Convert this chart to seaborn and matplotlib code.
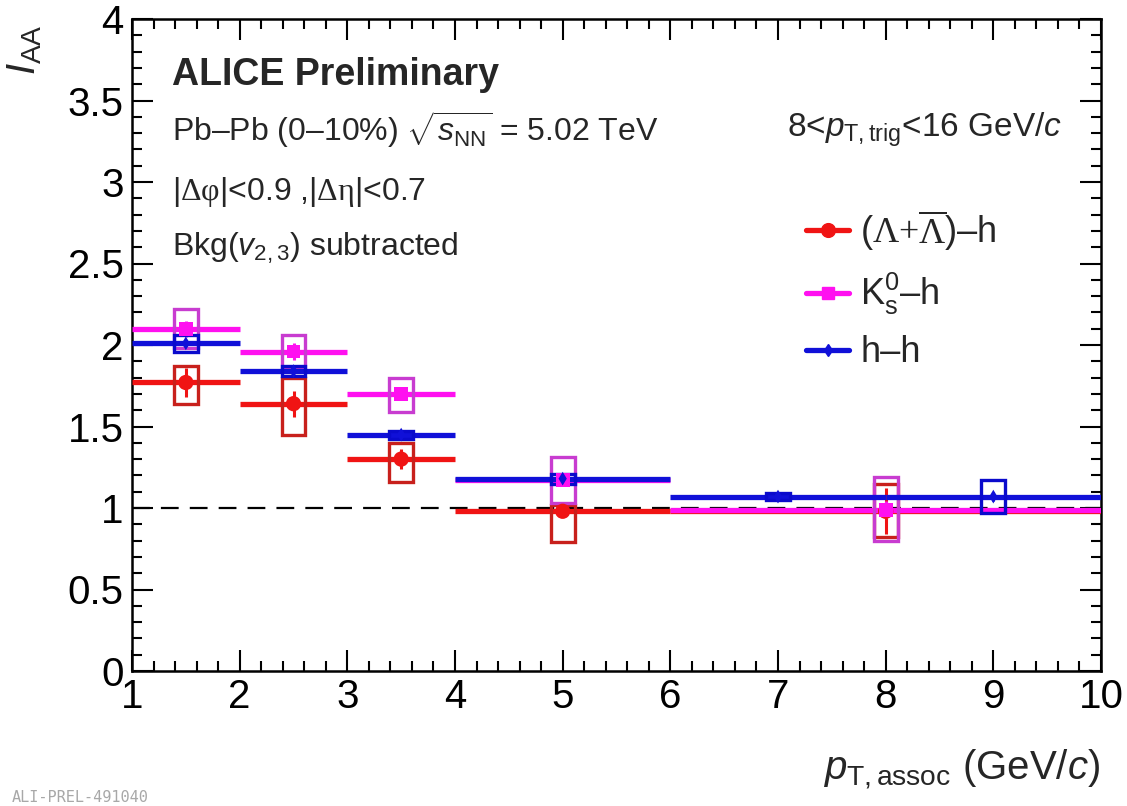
import matplotlib
matplotlib.use("Agg")
import matplotlib.pyplot as plt
from matplotlib.patches import Rectangle
from matplotlib.lines import Line2D
from matplotlib.ticker import MultipleLocator, FuncFormatter
import numpy as np
import pandas as pd
import seaborn as sns

# (Lambda + anti-Lambda)-h
lam_lo = [1, 2, 3, 4, 6]
lam_hi = [2, 3, 4, 6, 10]
lam_x = [1.5, 2.5, 3.5, 5.0, 8.0]
lam_y = [1.77, 1.64, 1.30, 0.98, 0.98]
lam_stat = [0.09, 0.08, 0.06, 0.03, 0.14]
lam_sys_dn = [0.13, 0.19, 0.14, 0.19, 0.16]
lam_sys_up = [0.10, 0.16, 0.10, 0.04, 0.17]

# K0s-h
k0_lo = [1, 2, 3, 4, 6]
k0_hi = [2, 3, 4, 6, 10]
k0_x = [1.5, 2.5, 3.5, 5.0, 8.0]
k0_y = [2.10, 1.96, 1.70, 1.17, 0.99]
k0_stat = [0.05, 0.05, 0.04, 0.03, 0.05]
k0_sys_dn = [0.12, 0.10, 0.11, 0.14, 0.19]
k0_sys_up = [0.12, 0.10, 0.10, 0.14, 0.20]

# h-h
hh_lo = [1, 2, 3, 4, 6, 8]
hh_hi = [2, 3, 4, 6, 8, 10]
hh_x = [1.5, 2.5, 3.5, 5.0, 7.0, 9.0]
hh_y = [2.01, 1.84, 1.45, 1.18, 1.07, 1.07]
hh_stat = [0.015, 0.01, 0.01, 0.01, 0.01, 0.03]
hh_sys_dn = [0.05, 0.03, 0.025, 0.03, 0.02, 0.10]
hh_sys_up = [0.05, 0.03, 0.025, 0.03, 0.02, 0.10]

series_names = [r"$(\mathsf{\Lambda}\mathsf{+}\overline{\mathsf{\Lambda}})$–h",
                r"K$^{0}_{\rm s}$–h", "h–h"]

sns.set_theme(style="ticks")
plt.rcParams["font.family"] = ["Liberation Sans", "DejaVu Sans"]
plt.rcParams["mathtext.fontset"] = "custom"
plt.rcParams["mathtext.rm"] = "Liberation Sans"
plt.rcParams["mathtext.it"] = "Liberation Sans:italic"
plt.rcParams["mathtext.bf"] = "Liberation Sans:bold"
plt.rcParams["mathtext.sf"] = "Liberation Serif"

W, H = 1127, 806
fig = plt.figure(figsize=(W / 100, H / 100), dpi=100)
ax = fig.add_axes([132 / W, 1 - 671 / H, (1101 - 132) / W, (671 - 19) / H])

series = [
    dict(name=series_names[0], lo=lam_lo, hi=lam_hi, x=lam_x, y=lam_y, stat=lam_stat,
         sdn=lam_sys_dn, sup=lam_sys_up, col="#f01414", box="#c8201c", marker="o", ms=11),
    dict(name=series_names[1], lo=k0_lo, hi=k0_hi, x=k0_x, y=k0_y, stat=k0_stat,
         sdn=k0_sys_dn, sup=k0_sys_up, col="#ff10f0", box="#c83cd0", marker="s", ms=10),
    dict(name=series_names[2], lo=hh_lo, hi=hh_hi, x=hh_x, y=hh_y, stat=hh_stat,
         sdn=hh_sys_dn, sup=hh_sys_up, col="#1010d8", box="#0a0acc", marker="d", ms=7),
]

# reference line at unity
ax.axhline(1.0, color="black", lw=1.6, ls=(0, (8, 5)), zorder=1)

box_w = 0.22
rows = []
for z, s in enumerate(series):
    x = np.array(s["x"])
    y = np.array(s["y"])
    lo = np.array(s["lo"])
    hi = np.array(s["hi"])
    # bin-width lines and statistical errors
    ax.errorbar(x, y, xerr=[x - lo, hi - x], fmt="none", ecolor=s["col"],
                elinewidth=3.8, capsize=0, zorder=3 + z)
    ax.errorbar(x, y, yerr=s["stat"], fmt="none", ecolor=s["col"],
                elinewidth=2.2, capsize=0, zorder=3 + z)
    # systematic boxes
    for xi, yi, dn, up in zip(x, y, s["sdn"], s["sup"]):
        ax.add_patch(Rectangle((xi - box_w / 2, yi - dn), box_w, dn + up,
                               fill=False, edgecolor=s["box"], lw=2.4, zorder=3 + z))
    for xi, yi in zip(x, y):
        rows.append(dict(pt=xi, iaa=yi, particle=s["name"]))

df = pd.DataFrame(rows)
palette = {s["name"]: s["col"] for s in series}
markers = {s["name"]: s["marker"] for s in series}
sizes = {s["name"]: s["ms"] ** 2 for s in series}
sns.scatterplot(data=df, x="pt", y="iaa", hue="particle", style="particle", size="particle",
                palette=palette, markers=markers, sizes=sizes, edgecolor="none",
                legend=False, ax=ax, zorder=8)

ax.set_xlim(1, 10)
ax.set_ylim(0, 4)
ax.xaxis.set_major_locator(MultipleLocator(1))
ax.xaxis.set_minor_locator(MultipleLocator(0.2))
ax.yaxis.set_major_locator(MultipleLocator(0.5))
ax.yaxis.set_minor_locator(MultipleLocator(0.1))
ax.yaxis.set_major_formatter(FuncFormatter(lambda v, p: f"{v:g}"))
ax.tick_params(which="both", direction="in", top=True, right=True, width=1.5,
               colors="black", labelsize=29)
ax.tick_params(which="major", length=15)
ax.tick_params(which="minor", length=7.5)
ax.tick_params(axis="x", pad=5)
ax.tick_params(axis="y", pad=6)
for sp in ax.spines.values():
    sp.set_linewidth(1.8)
    sp.set_color("black")
ax.set_xlabel("")
ax.set_ylabel("")

# axis titles
fig.text(1100 / W, 1 - 780 / H, r"$p_{\rm T,assoc}$ (GeV/$c$)", ha="right", va="baseline",
         fontsize=29)
fig.text(44 / W, 1 - 24 / H, r"$I_{\rm AA}$", rotation=90, ha="right", va="top",
         fontsize=29)

# annotations
tx = 172 / W
fig.text(tx, 1 - 85 / H, "ALICE Preliminary", fontsize=27, fontweight="bold", va="baseline")
fig.text(tx, 1 - 141 / H, r"Pb–Pb (0–10%) $\sqrt{s_{\rm NN}}$ = 5.02 TeV", fontsize=23,
         va="baseline")
fig.text(tx, 1 - 200 / H,
         r"|$\mathsf{\Delta\varphi}$|<0.9 ,|$\mathsf{\Delta\eta}$|<0.7",
         fontsize=23, va="baseline")
fig.text(tx, 1 - 256 / H, r"Bkg($v_{\rm 2,3}$) subtracted", fontsize=23, va="baseline")
fig.text(787 / W, 1 - 137 / H, r"8<$p_{\rm T,trig}$<16 GeV/$c$", fontsize=24, va="baseline")

# legend
handles = [Line2D([0], [0], color=s["col"], lw=3.8, marker=s["marker"], ms=s["ms"] * 0.9,
                  markeredgecolor=s["col"]) for s in series]
ax.legend(handles, series_names, loc="upper left", bbox_to_anchor=(806 / W, 1 - 208 / H),
          bbox_transform=fig.transFigure, frameon=False, fontsize=26, handlelength=1.2,
          handletextpad=0.3, labelspacing=0.5, borderpad=0, borderaxespad=0)

fig.text(12 / W, 1 - 805 / H, "ALI-PREL-491040", fontsize=11, family="DejaVu Sans Mono",
         color="#a8a8a8", va="bottom")

fig.savefig("out.png", dpi=100)
